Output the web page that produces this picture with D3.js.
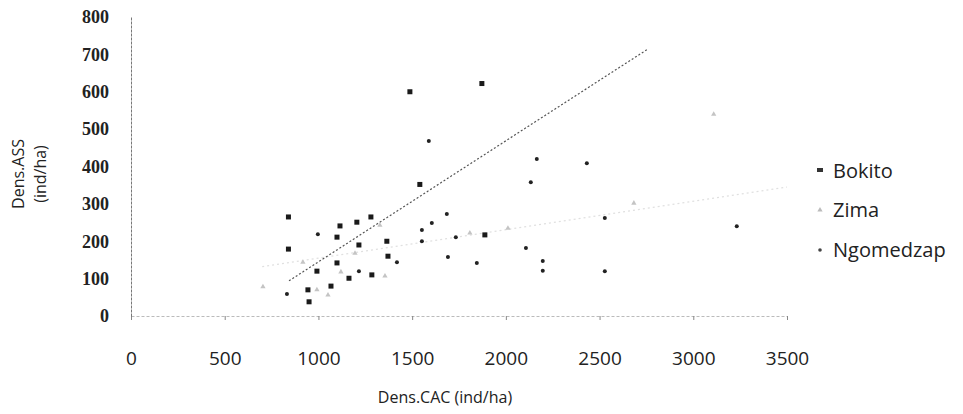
<!DOCTYPE html>
<html>
<head>
<meta charset="utf-8">
<script src="https://cdn.jsdelivr.net/npm/d3@7"></script>
<style>
  body { margin: 0; background: #fff; }
  svg { display: block; }
</style>
</head>
<body>
<svg id="chart" width="963" height="414"></svg>
<script>
// values
var bokitoX = [840, 840, 944, 950, 992, 1067, 1099, 1099, 1115, 1163, 1205, 1216, 1280, 1285, 1365, 1371, 1488, 1541, 1872, 1888];
var bokitoY = [265, 179, 70, 38, 120, 80, 211, 142, 241, 101, 251, 190, 265, 110, 200, 160, 600, 352, 622, 217];

var zimaX = [704, 917, 992, 1051, 1120, 1195, 1328, 1355, 1808, 2011, 2683, 3109];
var zimaY = [78, 144, 70, 56, 118, 168, 243, 107, 222, 235, 302, 540];

var ngoX = [832, 997, 1216, 1419, 1552, 1552, 1589, 1605, 1685, 1691, 1733, 1845, 2107, 2133, 2165, 2197, 2197, 2432, 2528, 2528, 3232];
var ngoY = [59, 219, 120, 144, 230, 200, 468, 249, 273, 158, 211, 142, 182, 358, 420, 147, 121, 409, 262, 120, 240];

// trend lines: [start, end]
var bokitoTrendX = [843, 2757];
var bokitoTrendY = [94, 714];
var zimaTrendX = [700, 3500];
var zimaTrendY = [132, 345];

var xTicks = [0, 500, 1000, 1500, 2000, 2500, 3000, 3500];
var yTicks = [0, 100, 200, 300, 400, 500, 600, 700, 800];
var seriesNames = ["Bokito", "Zima", "Ngomedzap"];

var svg = d3.select("#chart");

var x = d3.scaleLinear().domain([0, 3500]).range([131, 787]);
var y = d3.scaleLinear().domain([0, 800]).range([316, 17]);

// x axis
var xAxis = svg.append("g")
	.attr("transform", "translate(0," + y(0) + ")")
	.call(d3.axisBottom(x).tickValues(xTicks).tickFormat(d3.format("d")).tickSize(4).tickSizeOuter(0));
xAxis.select(".domain").attr("stroke", "#bbb").attr("stroke-dasharray", "3,2");
xAxis.selectAll(".tick line").attr("stroke", "#888");
xAxis.selectAll("text")
	.attr("y", 36)
	.attr("fill", "#222")
	.style("font-family", "Open Sans, sans-serif")
	.style("font-size", "19px");

// y axis
var yAxis = svg.append("g")
	.attr("transform", "translate(" + x(0) + ",0)")
	.call(d3.axisLeft(y).tickValues(yTicks).tickSize(0).tickPadding(22));
yAxis.select(".domain").attr("stroke", "#777").attr("stroke-dasharray", "3,1");
yAxis.selectAll("text")
	.attr("fill", "#222")
	.style("font-family", "Liberation Serif, serif")
	.style("font-weight", "bold")
	.style("font-size", "18px");

// trend lines
function trend(xs, ys, col, dash, w) {
	svg.append("line")
		.attr("x1", x(xs[0])).attr("y1", y(ys[0]))
		.attr("x2", x(xs[1])).attr("y2", y(ys[1]))
		.attr("stroke", col)
		.attr("stroke-width", w)
		.attr("stroke-dasharray", dash);
}
trend(zimaTrendX, zimaTrendY, "#e0e0e0", "2,3", 1.2);
trend(bokitoTrendX, bokitoTrendY, "#555", "2,2", 1.2);

// points
var zima = zimaX.map(function(d, i) { return {x: d, y: zimaY[i]}; });
var bokito = bokitoX.map(function(d, i) { return {x: d, y: bokitoY[i]}; });
var ngo = ngoX.map(function(d, i) { return {x: d, y: ngoY[i]}; });

var tri = d3.symbol().type(d3.symbolTriangle).size(12);

svg.append("g").selectAll("path").data(zima).enter()
	.append("path")
	.attr("d", tri)
	.attr("transform", function(d) { return "translate(" + x(d.x) + "," + y(d.y) + ")"; })
	.attr("fill", "#c4c4c4");

svg.append("g").selectAll("rect").data(bokito).enter()
	.append("rect")
	.attr("x", function(d) { return x(d.x) - 2.5; })
	.attr("y", function(d) { return y(d.y) - 2.5; })
	.attr("width", 5)
	.attr("height", 5)
	.attr("fill", "#1a1a1a");

svg.append("g").selectAll("circle").data(ngo).enter()
	.append("circle")
	.attr("cx", function(d) { return x(d.x); })
	.attr("cy", function(d) { return y(d.y); })
	.attr("r", 2)
	.attr("fill", "#222");

// axis titles
svg.append("text")
	.attr("x", 445).attr("y", 403)
	.attr("text-anchor", "middle")
	.attr("fill", "#222")
	.style("font-family", "Open Sans, sans-serif")
	.style("font-size", "16px")
	.text("Dens.CAC (ind/ha)");

var yt = svg.append("text")
	.attr("transform", "translate(24,174) rotate(-90)")
	.attr("text-anchor", "middle")
	.attr("fill", "#222")
	.style("font-family", "Open Sans, sans-serif")
	.style("font-size", "16px");
yt.append("tspan").attr("x", 0).attr("dy", 0).text("Dens.ASS");
yt.append("tspan").attr("x", 0).attr("dy", 22).text("(ind/ha)");

// legend
var leg = svg.append("g").attr("transform", "translate(820,0)");
var legY = [178, 217, 257];
leg.selectAll("text").data(seriesNames).enter()
	.append("text")
	.attr("x", 13)
	.attr("y", function(d, i) { return legY[i]; })
	.attr("fill", "#222")
	.style("font-family", "Open Sans, sans-serif")
	.style("font-size", "20px")
	.text(function(d) { return d; });
leg.append("rect").attr("x", -3).attr("y", legY[0] - 10).attr("width", 6).attr("height", 4).attr("fill", "#333");
leg.append("path").attr("d", tri).attr("transform", "translate(0," + (legY[1] - 7) + ")").attr("fill", "#bbb");
leg.append("circle").attr("cx", 0).attr("cy", legY[2] - 7).attr("r", 1.8).attr("fill", "#444");
</script>
</body>
</html>
